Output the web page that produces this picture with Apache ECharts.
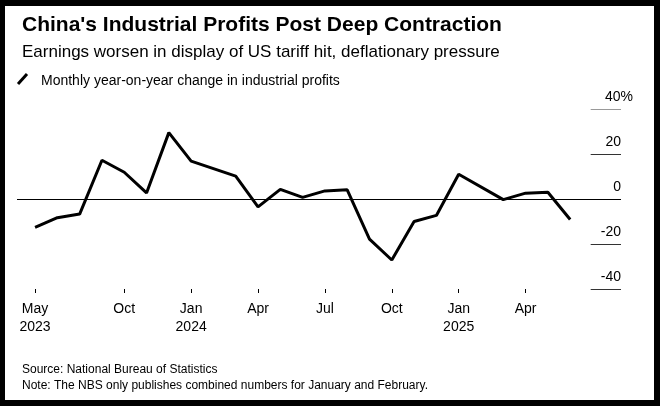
<!DOCTYPE html>
<html><head><meta charset="utf-8">
<script src="https://cdn.jsdelivr.net/npm/echarts@6/dist/echarts.min.js"></script>
<style>
html,body{margin:0;padding:0;background:#000;}
#frame{position:absolute;left:5px;top:6px;width:649px;height:394px;background:#fff;}
#c{position:absolute;left:0;top:0;width:660px;height:406px;}
</style></head><body>
<div id="frame"></div>
<div id="c"></div>
<script>
// month index 0 = May 2023 point position (points plotted at month end)
const monthIdx = [0,1,2,3,4,5,6,7,9,10,11,12,13,14,15,16,17,18,19,21,22,23,24];
const profits = [-12.6,-8.3,-6.7,17.2,11.9,2.7,29.5,16.8,10.2,-3.5,4.3,0.7,3.6,4.1,-17.8,-27.1,-10.0,-7.3,11.0,-0.3,2.6,3.0,-9.1];
const tickIdx = [0,4,7,10,13,16,19,22];
const tickLabels = ['May\n2023','Oct','Jan\n2024','Apr','Jul','Oct','Jan\n2025','Apr'];
const yTicks = [-40,-20,0,20,40];

const xMin = -0.81, xMax = 26.28, tickStart = 24.92;
const chart = echarts.init(document.getElementById('c'));
const font = 'Liberation Sans, Arial, sans-serif';
chart.setOption({
  animation:false,
  textStyle:{fontFamily:font},
  title:[
    {text:"China's Industrial Profits Post Deep Contraction",left:17,top:10,textStyle:{fontSize:21,fontWeight:'bold',color:'#000',fontFamily:font}},
    {text:'Earnings worsen in display of US tariff hit, deflationary pressure',left:17,top:39,textStyle:{fontSize:17,fontWeight:'normal',color:'#000',fontFamily:font}},
    {text:'Monthly year-on-year change in industrial profits',left:36,top:69,textStyle:{fontSize:14,fontWeight:'normal',color:'#000',fontFamily:font}},
    {text:'Source: National Bureau of Statistics\nNote: The NBS only publishes combined numbers for January and February.',left:17,top:357,textStyle:{fontSize:12,lineHeight:16,fontWeight:'normal',color:'#000',fontFamily:font}}
  ],
  graphic:[{type:'line',shape:{x1:18,y1:84,x2:27,y2:74},style:{stroke:'#000',lineWidth:3}}],
  grid:{left:17,right:39,top:109,bottom:117},
  xAxis:{type:'value',min:xMin,max:xMax,
    axisLine:{show:false,onZero:false},splitLine:{show:false},
    axisTick:{show:true,customValues:tickIdx,length:4,lineStyle:{color:'#000',width:1}},
    axisLabel:{customValues:tickIdx,fontSize:14,color:'#000',lineHeight:18,margin:11,
      formatter:(v)=>{const i=tickIdx.indexOf(Math.round(v));return i>=0?tickLabels[i]:'';}}
  },
  yAxis:{type:'value',min:-40,max:40,interval:20,position:'right',
    axisLine:{show:false},axisTick:{show:false},splitLine:{show:false},
    axisLabel:{inside:true,margin:-12,verticalAlign:'bottom',padding:[0,0,5,0],fontSize:14,color:'#000',align:'right',
      formatter:(v)=>v===40?'40%':v+'{s|}',rich:{s:{width:12}}}
  },
  series:[
    {type:'line',data:monthIdx.map((m,i)=>[m,profits[i]]),showSymbol:false,
     lineStyle:{color:'#000',width:3},z:3,
     markLine:{silent:true,symbol:'none',label:{show:false},
       data:yTicks.map(v=>[{coord:[v===0?xMin:tickStart,v],lineStyle:{color:v===40?'#999':(v===0?'#000':'#333'),width:1,type:'solid'}},{coord:[xMax,v]}])}
    }
  ]
});
</script></body></html>
